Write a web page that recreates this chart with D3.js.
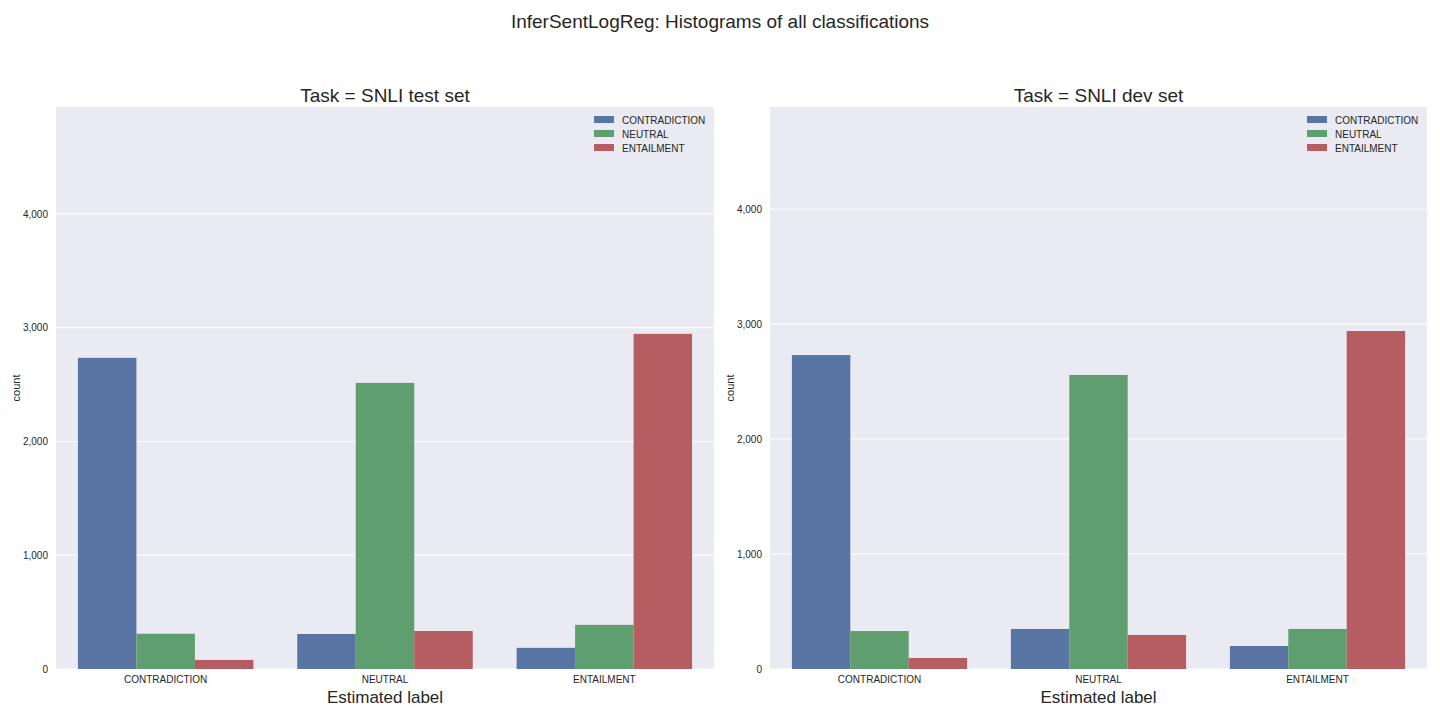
<!DOCTYPE html>
<html><head><meta charset="utf-8">
<script src="https://cdn.jsdelivr.net/npm/d3@7"></script>
<style>body{margin:0;background:#fff;font-family:Arial,"Liberation Sans",sans-serif}</style>
</head><body><svg id="c" width="1440" height="720"></svg>
<script>
const categories = ["CONTRADICTION","NEUTRAL","ENTAILMENT"];
const seriesNames = ["CONTRADICTION","NEUTRAL","ENTAILMENT"];
const colors = ["#5875A4","#5F9E6E","#B55D60"];
const testValues = [[2735,310,80],[308,2515,334],[186,388,2946]]; // [category][series]
const devValues = [[2730,330,96],[348,2557,296],[200,348,2939]];
const yTicks = [0,1000,2000,3000,4000];
const panels = [
  {title:"Task = SNLI test set", data:testValues, x0:56, x1:714, ymax:4940},
  {title:"Task = SNLI dev set", data:devValues, x0:770, x1:1427, ymax:4887}
];
const svg = d3.select("#c");
const plotTop=107, plotBottom=669;
svg.append("text").attr("x",720).attr("y",28).attr("text-anchor","middle").attr("font-size",19).attr("fill","#262626").text("InferSentLogReg: Histograms of all classifications");
panels.forEach(p=>{
  const g = svg.append("g");
  const x = d3.scaleBand().domain(categories).range([p.x0,p.x1]).paddingInner(0.2).paddingOuter(0.1);
  const y = d3.scaleLinear().domain([0,p.ymax]).range([plotBottom,plotTop]);
  g.append("rect").attr("x",p.x0).attr("y",plotTop).attr("width",p.x1-p.x0).attr("height",plotBottom-plotTop).attr("fill","#EAEAF2");
  g.selectAll(".grid").data(yTicks).join("line").attr("x1",p.x0).attr("x2",p.x1).attr("y1",d=>y(d)).attr("y2",d=>y(d)).attr("stroke","#fff").attr("stroke-width",1);
  const xs = d3.scaleBand().domain(seriesNames).range([0,x.bandwidth()]);
  categories.forEach((c,ci)=>{
    g.selectAll(null).data(p.data[ci]).join("rect")
      .attr("x",(d,si)=>x(c)+xs(seriesNames[si])).attr("width",xs.bandwidth())
      .attr("y",d=>y(d)).attr("height",d=>plotBottom-y(d)).attr("fill",(d,si)=>colors[si]);
  });
  const ya = g.append("g").attr("transform",`translate(${p.x0},0)`).call(d3.axisLeft(y).tickValues(yTicks).tickSize(0).tickPadding(8));
  ya.select(".domain").remove();
  ya.selectAll("text").attr("font-size",10).attr("fill","#262626").attr("font-family","Arial,Liberation Sans,sans-serif");
  const xa = g.append("g").attr("transform",`translate(0,${plotBottom})`).call(d3.axisBottom(x).tickSize(0).tickPadding(7));
  xa.select(".domain").remove();
  xa.selectAll("text").attr("font-size",10).attr("fill","#262626").attr("font-family","Arial,Liberation Sans,sans-serif");
  const cx=(p.x0+p.x1)/2;
  g.append("text").attr("x",cx).attr("y",102).attr("text-anchor","middle").attr("font-size",19).attr("fill","#262626").text(p.title);
  g.append("text").attr("x",cx).attr("y",703).attr("text-anchor","middle").attr("font-size",17).attr("fill","#262626").text("Estimated label");
  g.append("text").attr("transform",`translate(${p.x0-36},${(plotTop+plotBottom)/2}) rotate(-90)`).attr("text-anchor","middle").attr("font-size",11).attr("fill","#262626").text("count");
  seriesNames.forEach((s,i)=>{
    g.append("rect").attr("x",p.x1-120).attr("y",116+i*14).attr("width",20).attr("height",7).attr("fill",colors[i]);
    g.append("text").attr("x",p.x1-92).attr("y",124+i*14).attr("font-size",10).attr("fill","#262626").text(s);
  });
});
</script></body></html>
